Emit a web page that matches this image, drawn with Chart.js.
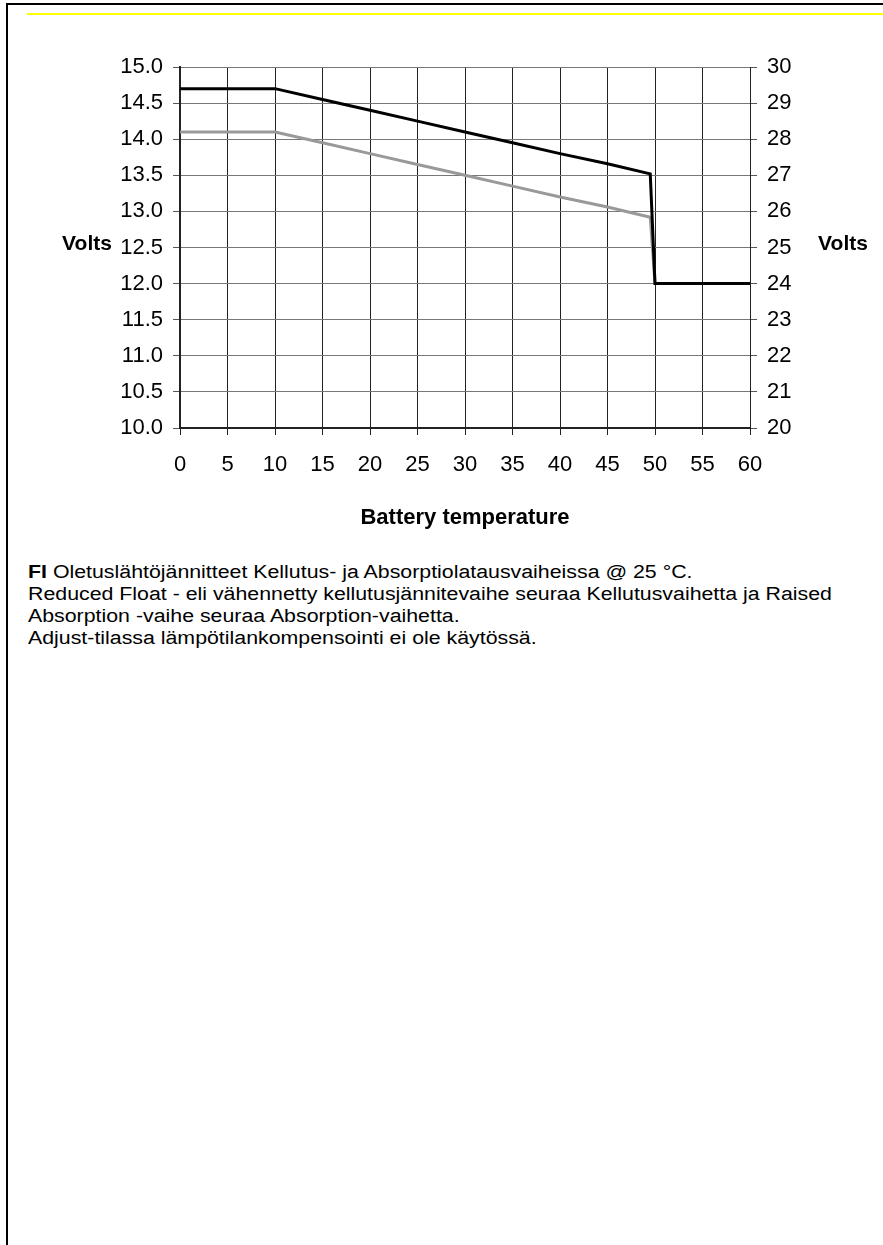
<!DOCTYPE html>
<html>
<head>
<meta charset="utf-8">
<script src="https://cdn.jsdelivr.net/npm/chart.js@4.4.1/dist/chart.umd.min.js"></script>
<style>
  html, body { margin: 0; padding: 0; background: #fff; }
  body { width: 883px; height: 1245px; position: relative; overflow: hidden; font-family: "Liberation Sans", Arial, sans-serif; }
  #frame_top { position: absolute; left: 6px; top: 3px; right: 0; height: 2px; background: #000; }
  #frame_left { position: absolute; left: 6px; top: 3px; bottom: 0; width: 2px; background: #000; }
  #yellow_rule { position: absolute; left: 27px; top: 13px; right: 0; height: 2px; background: #ffff00; }
  #chart_box { position: absolute; left: 0; top: 0; width: 883px; height: 560px; }
  #note { position: absolute; left: 28px; top: 561px; font-size: 18px; line-height: 22px; color: #000;
          white-space: nowrap; transform: scaleX(1.185); transform-origin: 0 0; }
</style>
</head>
<body>
<div id="frame_top"></div>
<div id="frame_left"></div>
<div id="yellow_rule"></div>
<div id="chart_box"><canvas id="voltChart" width="883" height="560"></canvas></div>
<div id="note">
  <b>FI</b> Oletuslähtöjännitteet Kellutus- ja Absorptiolatausvaiheissa @ 25 °C.<br>
  Reduced Float - eli vähennetty kellutusjännitevaihe seuraa Kellutusvaihetta ja Raised<br>
  Absorption -vaihe seuraa Absorption-vaihetta.<br>
  Adjust-tilassa lämpötilankompensointi ei ole käytössä.
</div>
<script>
// battery temperature (°C) and charge voltages
const temps = [0, 5, 10, 15, 20, 25, 30, 35, 40, 45, 49.5, 50, 55, 60];
const upper_volts = [14.7, 14.7, 14.7, 14.55, 14.4, 14.25, 14.1, 13.95, 13.8, 13.66, 13.52, 12.0, 12.0, 12.0];
const lower_volts = [14.1, 14.1, 14.1, 13.95, 13.8, 13.65, 13.5, 13.35, 13.2, 13.06, 12.92, 12.0, 12.0, 12.0];
const x_ticks = [0, 5, 10, 15, 20, 25, 30, 35, 40, 45, 50, 55, 60];
const left_range = [10, 15];
const right_range = [20, 30];

const toPoints = (ys) => temps.map((t, i) => ({ x: t, y: ys[i] }));

// "Volts" labels sit horizontally beside each y axis
const sideTitles = {
  id: "sideTitles",
  afterDraw(chart) {
    const ctx = chart.ctx;
    const area = chart.chartArea;
    const mid = (area.top + area.bottom) / 2 - 3;
    ctx.save();
    ctx.font = "bold 21px 'Liberation Sans', Arial, sans-serif";
    ctx.fillStyle = "#000";
    ctx.textAlign = "center";
    ctx.textBaseline = "middle";
    ctx.fillText("Volts", 87, mid);
    ctx.fillText("Volts", 843, mid);
    ctx.restore();
  },
};

const volt_chart = new Chart("voltChart", {
  type: "line",
  data: {
    datasets: [
      {
        label: "Lower",
        data: toPoints(lower_volts),
        borderColor: "#999999",
        borderWidth: 3,
        pointRadius: 0,
        tension: 0,
        order: 2,
      },
      {
        label: "Upper",
        data: toPoints(upper_volts),
        borderColor: "#000000",
        borderWidth: 3,
        pointRadius: 0,
        tension: 0,
        order: 1,
      },
    ],
  },
  options: {
    responsive: false,
    animation: false,
    layout: { padding: { top: 67, left: 0, right: 0, bottom: 0 } },
    plugins: { legend: { display: false }, tooltip: { enabled: false } },
    scales: {
      x: {
        type: "linear",
        min: 0,
        max: 60,
        afterBuildTicks: (s) => { s.ticks = x_ticks.map((v) => ({ value: v })); },
        afterFit: (s) => { s.height = 132; },
        grid: { color: "#222", lineWidth: 1, tickLength: 7, tickColor: "#222" },
        border: { color: "#222", width: 2 },
        ticks: {
          color: "#000",
          padding: 17,
          maxRotation: 0,
          font: { family: "'Liberation Sans', Arial", size: 22 },
        },
        title: {
          display: true,
          text: "Battery temperature",
          color: "#000",
          font: { family: "'Liberation Sans', Arial", size: 22, weight: "bold" },
          padding: { top: 0, bottom: 29 },
        },
      },
      y: {
        position: "left",
        min: left_range[0],
        max: left_range[1],
        afterFit: (s) => { s.width = 180; },
        grid: { color: "#777", lineWidth: 1, tickLength: 7, tickColor: "#555" },
        border: { color: "#222", width: 2 },
        ticks: {
          stepSize: 0.5,
          color: "#000",
          padding: 10,
          callback: (v) => v.toFixed(1),
          font: { family: "'Liberation Sans', Arial", size: 22 },
        },
      },
      y1: {
        position: "right",
        min: right_range[0],
        max: right_range[1],
        afterFit: (s) => { s.width = 133; },
        grid: { drawOnChartArea: false, tickLength: 7, tickColor: "#555" },
        border: { color: "#222", width: 1 },
        ticks: {
          stepSize: 1,
          color: "#000",
          padding: 10,
          font: { family: "'Liberation Sans', Arial", size: 22 },
        },
      },
    },
  },
  plugins: [sideTitles],
});
</script>
</body>
</html>
